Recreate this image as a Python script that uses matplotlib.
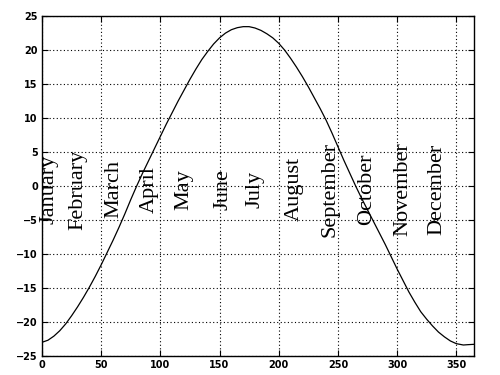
import numpy as np
import matplotlib
matplotlib.use("Agg")
import matplotlib.pyplot as plt

# day of year and declination (degrees)
days = [0, 5, 10, 15, 20, 25, 30, 35, 40, 45, 50, 55, 60, 65, 70, 75, 80,
        85, 90, 95, 100, 105, 110, 115, 120, 125, 130, 135, 140, 145, 150,
        155, 160, 165, 170, 175, 180, 185, 190, 195, 200, 205, 210, 215,
        220, 225, 230, 235, 240, 245, 250, 255, 260, 265, 270, 275, 280,
        285, 290, 295, 300, 305, 310, 315, 320, 325, 330, 335, 340, 345,
        350, 356, 360, 365]
decl = [-23.0, -22.7, -22.1, -21.3, -20.3, -19.1, -17.8, -16.4, -14.9,
        -13.3, -11.6, -9.8, -8.0, -6.1, -4.1, -2.0, 0.0, 1.9, 3.7, 5.5, 7.3,
        9.1, 10.8, 12.5, 14.1, 15.7, 17.2, 18.6, 19.8, 20.9, 21.8, 22.5,
        23.0, 23.3, 23.45, 23.45, 23.25, 22.9, 22.4, 21.8, 21.0, 20.0, 18.8,
        17.5, 16.1, 14.6, 13.0, 11.4, 9.7, 7.8, 5.8, 3.8, 1.9, 0.0, -1.8,
        -3.5, -5.2, -6.9, -8.6, -10.4, -12.2, -13.9, -15.6, -17.1, -18.5,
        -19.6, -20.6, -21.5, -22.2, -22.8, -23.2, -23.4, -23.35, -23.3]

months = ["January", "February", "March", "April", "May", "June", "July",
          "August", "September", "October", "November", "December"]
month_x = [6, 30, 61, 91, 120, 153, 180, 213, 243, 274, 305, 334]
month_y = -0.5

xticks = [0, 50, 100, 150, 200, 250, 300, 350]
yticks = [-25, -20, -15, -10, -5, 0, 5, 10, 15, 20, 25]

fig = plt.figure(figsize=(5, 3.75), dpi=100)
ax = fig.add_axes([0.084, 0.051, 0.864, 0.906])

ax.plot(days, decl, color="black", linewidth=0.9)

for name, mx in zip(months, month_x):
    ax.text(mx, month_y, name, rotation=90, ha="center", va="center",
            fontsize=16, family="Liberation Serif", color="black")

ax.set_xlim(0, 365)
ax.set_ylim(-25, 25)
ax.set_xticks(xticks)
ax.set_yticks(yticks)
ax.tick_params(direction="in", length=4, width=0.8, top=True, right=True,
               labelsize=7, pad=3)
for lab in ax.get_xticklabels() + ax.get_yticklabels():
    lab.set_fontweight("bold")

ax.grid(True, color="black", linestyle=(0, (1, 2.2)), linewidth=0.8)
for sp in ax.spines.values():
    sp.set_linewidth(1.0)
    sp.set_color("black")

fig.savefig("out.png", dpi=100)
